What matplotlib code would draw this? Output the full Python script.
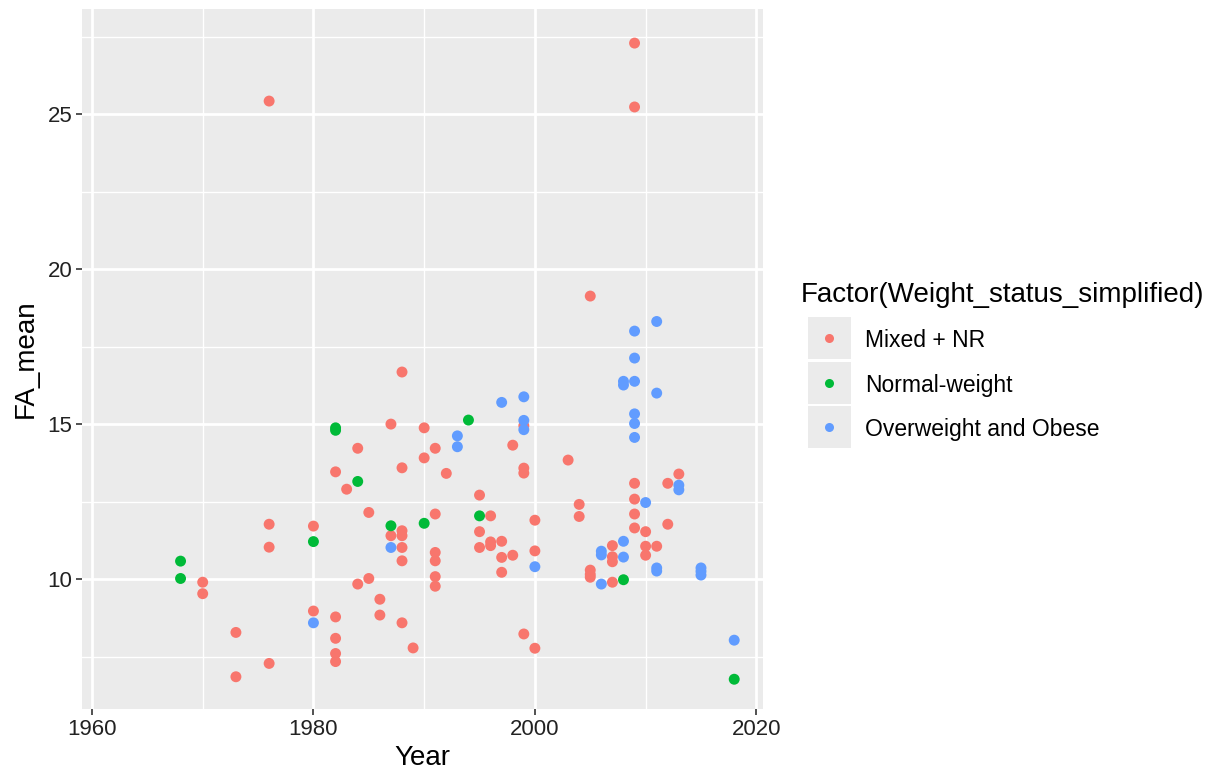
import matplotlib
matplotlib.use("Agg")
import matplotlib.pyplot as plt
from matplotlib.patches import Rectangle
from matplotlib.lines import Line2D

plt.rcParams['font.family'] = ['Liberation Sans', 'DejaVu Sans']

# Mixed + NR
mixed_year = [1970, 1970, 1973, 1973, 1976, 1976, 1976, 1976, 1980, 1980,
              1982, 1982, 1982, 1982, 1982, 1983, 1984, 1984, 1985, 1985,
              1986, 1986, 1987, 1987, 1988, 1988, 1988, 1988, 1988, 1988, 1988,
              1989, 1990, 1990, 1991, 1991, 1991, 1991, 1991, 1991, 1992,
              1995, 1995, 1995, 1996, 1996, 1996, 1997, 1997, 1997, 1998, 1998,
              1999, 1999, 1999, 1999, 2000, 2000, 2000, 2003, 2004, 2004,
              2005, 2005, 2005, 2005, 2007, 2007, 2007, 2007,
              2009, 2009, 2009, 2009, 2009, 2009, 2010, 2010, 2010, 2011,
              2012, 2012, 2013]
mixed_fa = [9.9, 9.53, 8.28, 6.85, 25.42, 11.77, 11.03, 7.28, 11.71, 8.97,
            13.46, 8.78, 8.09, 7.6, 7.34, 12.9, 14.22, 9.84, 12.15, 10.02,
            9.35, 8.84, 15.0, 11.4, 16.68, 13.59, 11.56, 11.4, 11.02, 10.59, 8.59,
            7.78, 14.88, 13.91, 14.22, 12.1, 10.86, 10.59, 10.08, 9.77, 13.41,
            12.71, 11.53, 11.02, 12.04, 11.2, 11.08, 11.22, 10.7, 10.22, 14.32, 10.77,
            14.95, 13.58, 13.42, 8.23, 11.9, 10.91, 7.77, 13.84, 12.41, 12.02,
            19.13, 10.29, 10.15, 10.06, 11.08, 10.72, 10.56, 9.9,
            27.29, 25.23, 13.09, 12.58, 12.1, 11.65, 11.53, 11.06, 10.77, 11.06,
            13.09, 11.77, 13.39]

# Normal-weight
normal_year = [1968, 1968, 1980, 1982, 1982, 1984, 1987, 1990, 1994, 1995, 2008, 2018]
normal_fa = [10.58, 10.02, 11.21, 14.88, 14.8, 13.15, 11.72, 11.8, 15.13, 12.04, 9.98, 6.77]

# Overweight and Obese
over_year = [1980, 1987, 1993, 1993, 1997, 1999, 1999, 1999, 2000,
             2006, 2006, 2006, 2008, 2008, 2008, 2008,
             2009, 2009, 2009, 2009, 2009, 2009, 2010, 2011, 2011, 2011, 2011,
             2013, 2013, 2015, 2015, 2015, 2018]
over_fa = [8.59, 11.02, 14.62, 14.27, 15.7, 15.88, 15.12, 14.82, 10.4,
           10.9, 10.78, 9.84, 16.38, 16.26, 11.22, 10.71,
           18.0, 17.13, 16.38, 15.33, 15.02, 14.57, 12.47, 18.31, 16.0, 10.36, 10.26,
           13.03, 12.88, 10.36, 10.25, 10.13, 8.03]

groups = ["Mixed + NR", "Normal-weight", "Overweight and Obese"]
colors = ["#F8766D", "#00BA38", "#619CFF"]

fig = plt.figure(figsize=(12.23, 7.80), dpi=100)
ax = fig.add_axes([82/1223, 71/780, 681/1223, 700/780])
ax.set_facecolor("#EBEBEB")

for xs, ys, c in zip([mixed_year, normal_year, over_year],
                     [mixed_fa, normal_fa, over_fa], colors):
    ax.scatter(xs, ys, s=62, color=c, edgecolors="none", zorder=3)

ax.set_xlim(1959.1, 2020.6)
ax.set_ylim(5.81, 28.39)
ax.set_xticks([1960, 1980, 2000, 2020])
ax.set_yticks([10, 15, 20, 25])
ax.set_xticks([1970, 1990, 2010], minor=True)
ax.set_yticks([7.5, 12.5, 17.5, 22.5, 27.5], minor=True)
ax.grid(which="major", color="white", linewidth=2.0)
ax.grid(which="minor", color="white", linewidth=1.0)
ax.set_axisbelow(True)
for s in ax.spines.values():
    s.set_visible(False)
ax.tick_params(which="major", length=4, width=1.2, color="#333333",
               labelsize=16, labelcolor="#222222", pad=3)
ax.tick_params(which="minor", length=0)

ax.set_xlabel("Year", fontsize=20, color="black", labelpad=4)
ax.set_ylabel("FA_mean", fontsize=20, color="black", labelpad=6)

# legend
fig.text(801/1223, 1 - 302/780, "Factor(Weight_status_simplified)", fontsize=20,
         ha="left", va="baseline")
rows = [317, 362, 406]
for i, (g, c) in enumerate(zip(groups, colors)):
    top = rows[i]
    fig.add_artist(Rectangle((808/1223, 1 - (top + 42)/780), 43/1223, 42/780,
                             transform=fig.transFigure, facecolor="#EBEBEB",
                             edgecolor="none"))
    cy = 1 - (top + 21)/780
    fig.add_artist(Line2D([829.5/1223], [cy], marker="o", markersize=6.5,
                          color=c, markeredgewidth=0, transform=fig.transFigure))
    fig.text(865/1223, cy, g, fontsize=16.5, ha="left", va="center_baseline")

fig.savefig("out.png", dpi=100)
